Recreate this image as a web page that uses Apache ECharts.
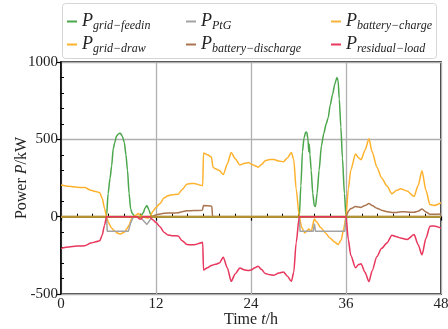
<!DOCTYPE html>
<html>
<head>
<meta charset="utf-8">
<script src="https://cdn.jsdelivr.net/npm/echarts@6/dist/echarts.min.js"></script>
<style>
  html, body { margin: 0; padding: 0; background: #fff; }
  #chart { width: 448px; height: 329px; }
</style>
</head>
<body>
<div id="chart"></div>
<script>
// axis ticks
var xTicks = [0, 12, 24, 36, 48];
var yTicks = [-500, 0, 500, 1000];

// legend names (subscripts of P)
var names = ['grid−feedin', 'grid−draw', 'PtG', 'battery−discharge', 'battery−charge', 'residual−load'];

// P_grid-feedin
var feedinT = [0, 5.75, 5.95, 6.2, 6.4, 6.6, 6.8, 7.0, 7.25, 7.5, 7.75, 8.0, 8.2, 8.4, 8.6, 8.8, 9.0, 9.4, 10.0, 10.4, 10.6, 10.85, 11.1, 11.3, 11.5,
  30.1, 30.3, 30.5, 30.7, 30.9, 31.05, 31.2, 31.3, 31.35, 31.45, 31.6, 31.8, 32.0, 32.15, 32.35, 32.6, 32.9, 33.2, 33.5, 33.75, 34.0, 34.3, 34.6, 34.85, 35.0, 35.15, 35.35, 35.55, 35.8, 36.0, 48];
var feedinP = [0, 0, 150, 250, 330, 440, 480, 520, 535, 540, 520, 480, 400, 300, 150, 50, 20, 0, 0, 25, 55, 72, 45, 15, 0,
  0, 200, 420, 510, 545, 545, 500, 420, 470, 400, 300, 150, 70, 65, 150, 300, 460, 540, 600, 640, 720, 790, 860, 900, 880, 760, 580, 380, 150, 0, 0];

// P_grid-draw
var drawT = [0, 1, 2, 3, 3.8, 4.4, 4.9, 5.2, 5.5, 5.75, 6.0, 6.4, 6.8, 7.2, 7.5, 8.0, 8.3, 8.6, 8.9, 9.2, 9.5, 9.75, 10.0, 10.3, 10.6, 11.0, 11.3, 11.6,
  12.0, 12.5, 13.0, 13.5, 14.0, 14.8, 15.3, 15.9, 16.5, 17.0, 17.5, 17.9, 18.0, 18.5, 19.0, 19.2, 19.5, 20.0, 20.5, 21.0, 21.5, 22.0, 22.6, 23.2, 23.7,
  24.0, 24.5, 24.9, 25.3, 25.8, 26.4, 26.9, 27.5, 28.1, 28.6, 29.1, 29.4, 29.7, 30.1, 30.4, 30.8, 31.1, 31.3, 31.6, 32.0, 32.3, 32.8, 33.4, 34.0, 34.6, 35.0, 35.4, 35.7,
  36.0, 36.3, 36.6, 37.2, 37.6, 37.9, 38.4, 38.9, 39.3, 39.9, 40.5, 41.2, 41.8, 42.4, 42.9, 43.7, 44.6, 45.1, 45.6, 46.1, 46.6, 47.1, 48];
var drawP = [205, 196, 190, 188, 170, 162, 155, 120, 55, 0, -40, -75, -95, -108, -112, -100, -80, -55, -15, 0, 10, 20, 10, 0, -5, -10, 5, 35,
  60, 85, 120, 135, 142, 145, 175, 210, 215, 213, 205, 200, 412, 400, 385, 320, 310, 298, 272, 340, 415, 375, 335, 345, 350,
  340, 330, 320, 335, 362, 370, 370, 360, 355, 380, 415, 370, 180, 0, -70, -105, -90, -80, -95, -15, -35, -70, -105, -140, -165, -180, -150, -80,
  0, 180, 300, 405, 380, 368, 430, 503, 420, 320, 250, 196, 148, 170, 180, 166, 131, 200, 297, 170, 78, 72, 90];

// P_PtG
var ptgT = [0, 5.75, 5.85, 8.5, 8.8, 9.1, 9.6, 10.0, 10.4, 10.85, 11.2, 11.5, 30.1, 30.2, 31.85, 32.0, 32.15, 35.85, 36.0, 48];
var ptgP = [0, 0, -95, -95, -40, -5, 0, -5, -25, -50, -25, 0, 0, -95, -95, -45, -95, -95, 0, 0];

// P_battery-discharge
var dischT = [0, 11.4, 11.8, 12.1, 12.6, 13.1, 14.0, 14.8, 15.3, 15.9, 16.8, 17.85, 18.0, 19.05, 19.15,
  36.0, 36.3, 36.6, 37.2, 37.6, 37.9, 38.4, 38.9, 39.3, 39.9, 40.5, 41.2, 41.8, 42.4, 43.1, 43.7, 44.6, 45.1, 45.6, 46.1, 46.6, 48];
var dischP = [0, 0, 8, 13, 18, 22, 24, 25, 32, 38, 40, 41, 72, 68, 0,
  0, 35, 52, 66, 62, 60, 72, 85, 72, 55, 42, 32, 27, 27, 32, 30, 28, 35, 50, 30, 15, 17];

// P_battery-charge
var chargeT = [0, 48];
var chargeP = [0, 0];

// P_residual-load
var resT = [0, 1, 2, 3, 3.8, 4.4, 4.9, 5.2, 5.5, 5.75, 9.6, 9.9, 10.1, 10.4, 11.2, 11.6,
  12.0, 12.5, 13.0, 13.5, 14.0, 14.8, 15.3, 15.9, 16.5, 17.0, 17.5, 17.9, 18.0, 18.5, 19.0, 19.5, 20.0, 20.5, 21.0, 21.5, 22.0, 22.6, 23.2, 23.7,
  24.0, 24.5, 24.9, 25.3, 25.8, 26.4, 26.9, 27.5, 28.1, 28.6, 29.1, 29.4, 29.7, 30.1,
  36.0, 36.3, 36.6, 37.2, 37.6, 37.9, 38.4, 38.9, 39.3, 39.9, 40.5, 41.2, 41.8, 42.4, 42.9, 43.7, 44.6, 45.1, 45.6, 46.1, 46.6, 47.1, 48];
var resP = [-205, -196, -190, -188, -170, -162, -155, -120, -55, 0, 0, -15, -15, 0, 0, -20,
  -38, -65, -100, -118, -123, -125, -155, -180, -182, -180, -172, -165, -345, -330, -315, -308, -300, -262, -330, -418, -370, -332, -345, -348,
  -345, -330, -320, -340, -368, -375, -378, -365, -357, -385, -418, -360, -170, 0,
  0, -150, -250, -330, -310, -305, -360, -420, -350, -258, -205, -168, -120, -130, -138, -148, -116, -180, -247, -140, -62, -60, -73];

var colors = ['#4ca64c', '#ffb22e', '#a3a3a3', '#a9744f', '#f7b43c', '#e8365c'];
var zeroLineColor = '#b8922c';
var serif = '"Liberation Serif", "DejaVu Serif", serif';

function pairs(t, v) {
  var out = [];
  for (var i = 0; i < t.length; i++) out.push([t[i], v[i]]);
  return out;
}

function line(name, t, v, color, smooth) {
  return {
    name: name,
    type: 'line',
    data: pairs(t, v),
    symbol: 'none',
    smooth: smooth ? 0.25 : false,
    smoothMonotone: 'x',
    itemStyle: { color: color },
    lineStyle: { color: color, width: 1.5 },
    emphasis: { disabled: true }
  };
}

function legendCol(left, items) {
  return {
    orient: 'vertical',
    left: left,
    top: 6,
    itemGap: 2,
    itemWidth: 10,
    itemHeight: 2,
    icon: 'rect',
    data: items,
    selectedMode: false,
    formatter: function (name) { return '{p|P}{s|' + name + '}'; },
    textStyle: {
      fontFamily: serif,
      fontStyle: 'italic',
      rich: {
        p: { fontFamily: serif, fontStyle: 'italic', fontSize: 18, color: '#222', lineHeight: 22 },
        s: { fontFamily: serif, fontStyle: 'italic', fontSize: 12, color: '#222', lineHeight: 22, padding: [9, 0, 0, 0] }
      }
    }
  };
}

var axisName = {
  r: { fontFamily: serif, fontSize: 16, color: '#222' },
  i: { fontFamily: serif, fontSize: 16, fontStyle: 'italic', color: '#222' }
};
var tickRich = { a: { fontFamily: serif, fontSize: 15, color: '#222' } };
function tickFmt(v) { return '{a|' + v + '}'; }

var chart = echarts.init(document.getElementById('chart'));
chart.setOption({
  animation: false,
  backgroundColor: '#fff',
  textStyle: { fontFamily: serif },
  graphic: [{
    type: 'rect',
    left: 62, top: 3,
    shape: { width: 374, height: 55, r: 3 },
    style: { fill: '#fff', stroke: '#d6d6d6', lineWidth: 1 },
    z: -1
  }],
  legend: [
    legendCol(62, [names[0], names[1]]),
    legendCol(181, [names[2], names[3]]),
    legendCol(326, [{ name: names[4], itemStyle: { color: colors[4] } }, names[5]])
  ],
  grid: {
    left: 61, right: 7, top: 62, bottom: 35,
    containLabel: false, outerBoundsMode: 'none',
    show: true, borderColor: '#000', borderWidth: 1.5, backgroundColor: 'transparent'
  },
  xAxis: {
    type: 'value',
    min: xTicks[0], max: xTicks[xTicks.length - 1], interval: 12,
    name: '{r|Time }{i|t}{r|/h}',
    nameLocation: 'middle', nameGap: 18, nameMoveOverlap: false,
    nameTextStyle: { fontFamily: serif, rich: axisName, verticalAlign: 'top' },
    axisLine: { lineStyle: { color: '#000', width: 1.5 } },
    axisTick: { show: true, length: 4, lineStyle: { color: '#000', width: 1.2 } },
    minorTick: { show: true, splitNumber: 6, length: -3, lineStyle: { color: '#000', width: 1 } },
    axisLabel: { fontFamily: serif, fontSize: 15, color: '#222', margin: 3, formatter: tickFmt, rich: tickRich },
    splitLine: { show: true, lineStyle: { color: '#b0b0b0', width: 1.3 } }
  },
  yAxis: {
    type: 'value',
    min: yTicks[0], max: yTicks[yTicks.length - 1], interval: 500,
    name: '{r|Power }{i|P}{r|/kW}',
    nameLocation: 'middle', nameGap: 31, nameRotate: 90, nameMoveOverlap: false,
    nameTextStyle: { fontFamily: serif, rich: axisName },
    axisLine: { lineStyle: { color: '#000', width: 1.5 } },
    axisTick: { show: true, length: 4, lineStyle: { color: '#000', width: 1.2 } },
    minorTick: { show: true, splitNumber: 5, length: -3, lineStyle: { color: '#000', width: 1 } },
    axisLabel: { fontFamily: serif, fontSize: 15, color: '#222', margin: 3, formatter: tickFmt, rich: tickRich },
    splitLine: { show: true, lineStyle: { color: '#b0b0b0', width: 1.3 } }
  },
  series: [
    line(names[0], feedinT, feedinP, colors[0], true),
    line(names[1], drawT, drawP, colors[1], true),
    line(names[2], ptgT, ptgP, colors[2], false),
    line(names[3], dischT, dischP, colors[3], true),
    Object.assign(line(names[4], chargeT, chargeP, zeroLineColor, false), { lineStyle: { color: zeroLineColor, width: 2 } }),
    line(names[5], resT, resP, colors[5], true)
  ]
});
</script>
</body>
</html>
